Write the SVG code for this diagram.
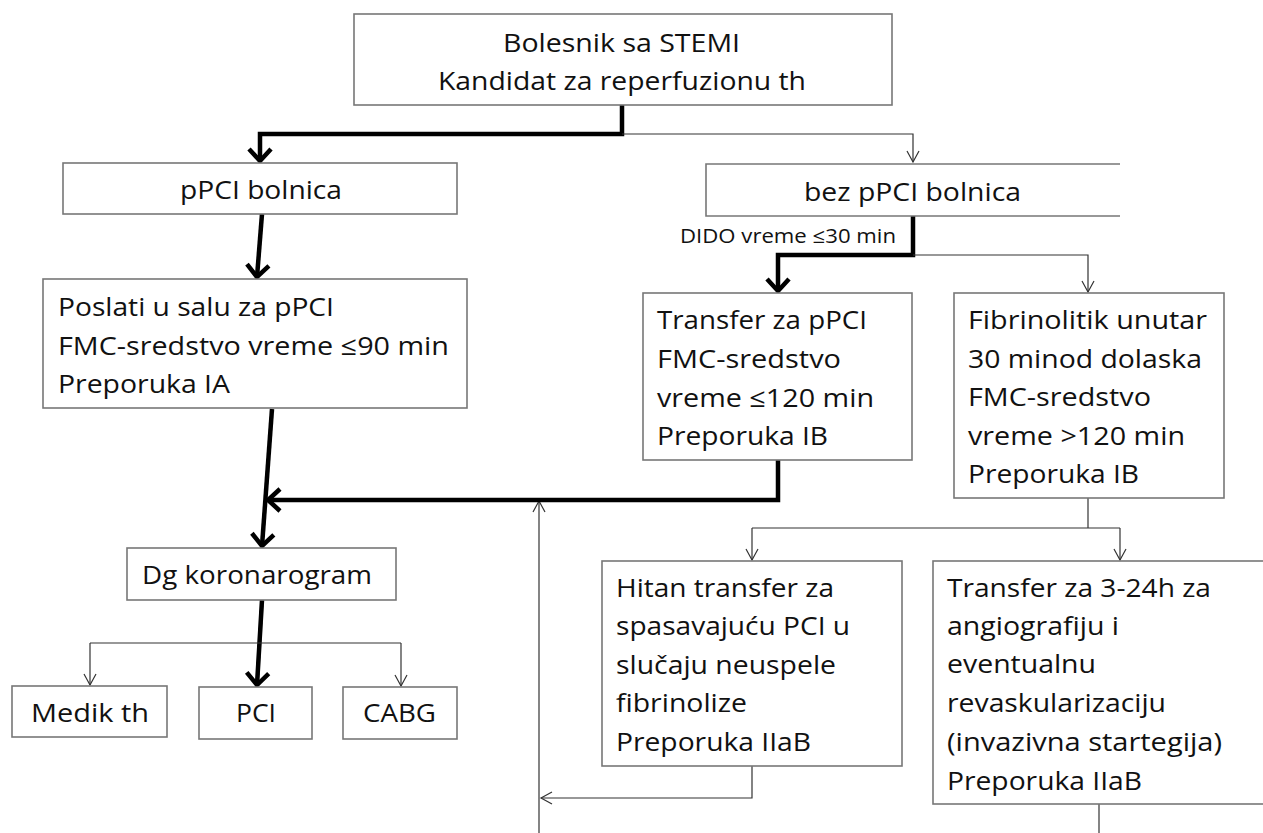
<svg xmlns="http://www.w3.org/2000/svg" width="1263" height="833" viewBox="0 0 1263 833">
<style>
.box{fill:#fff;stroke:#777;stroke-width:1.6}
.t{font-family:"Open Sans","Liberation Sans",sans-serif;font-size:26px;fill:#111}
.s{font-size:20px}
.thick{stroke:#000;stroke-width:4.5;fill:none}
.thin{stroke:#333;stroke-width:1.2;fill:none}
</style>
<defs>
<marker id="ak" markerUnits="userSpaceOnUse" markerWidth="30" markerHeight="30" refX="14" refY="12" orient="auto" overflow="visible">
<path d="M2,1 L14,12 L2,23" fill="none" stroke="#000" stroke-width="4.5"/>
</marker>
<marker id="an" markerUnits="userSpaceOnUse" markerWidth="14" markerHeight="14" refX="11" refY="6" orient="auto" overflow="visible">
<path d="M0,0 L11,6 L0,12" fill="none" stroke="#333" stroke-width="1.2"/>
</marker>
</defs>
<rect width="1263" height="833" fill="#fff"/>
<g id="connectors">
<path class="thin" d="M539,833 V501" marker-end="url(#an)"/>
<path class="thick" d="M622,105 V134 H260 V161" marker-end="url(#ak)"/>
<path class="thin" d="M622,134 H913 V162" marker-end="url(#an)"/>
<path class="thick" d="M262,214 L257,277" marker-end="url(#ak)"/>
<path class="thick" d="M913,216 V255 H778 V291" marker-end="url(#ak)"/>
<path class="thin" d="M913,255 H1088 V292" marker-end="url(#an)"/>
<path class="thick" d="M272,409 L262,546" marker-end="url(#ak)"/>
<path class="thick" d="M778,460 V500 H268" marker-end="url(#ak)"/>
<path class="thick" d="M262,600 L257,685" marker-end="url(#ak)"/>
<path class="thin" d="M90,643 H401"/>
<path class="thin" d="M90,643 V685" marker-end="url(#an)"/>
<path class="thin" d="M401,643 V686" marker-end="url(#an)"/>
<path class="thin" d="M1088,498 V528"/>
<path class="thin" d="M752,528 H1120"/>
<path class="thin" d="M752,528 V560" marker-end="url(#an)"/>
<path class="thin" d="M1120,528 V560" marker-end="url(#an)"/>
<path class="thin" d="M752,766 V798 H541" marker-end="url(#an)"/>
<path class="thin" d="M1099,804 V833"/>
<text class="t s" x="680" y="243" textLength="216" lengthAdjust="spacingAndGlyphs">DIDO vreme ≤30 min</text>
</g>
<g id="n-start">
<rect class="box" x="354" y="14" width="538" height="91"/>
<text class="t" x="503" y="52" textLength="237" lengthAdjust="spacingAndGlyphs">Bolesnik sa STEMI</text>
<text class="t" x="438" y="90" textLength="368" lengthAdjust="spacingAndGlyphs">Kandidat za reperfuzionu th</text>
</g>
<g id="n-ppci">
<rect class="box" x="63" y="163" width="394" height="51"/>
<text class="t" x="180" y="199" textLength="162" lengthAdjust="spacingAndGlyphs">pPCI bolnica</text>
</g>
<g id="n-bez">
<path class="box" d="M1120,164 H706 V216 H1120"/>
<text class="t" x="804" y="201" textLength="217" lengthAdjust="spacingAndGlyphs">bez pPCI bolnica</text>
</g>
<g id="n-poslati">
<rect class="box" x="43" y="279" width="424" height="129"/>
<text class="t" x="58" y="316" textLength="276" lengthAdjust="spacingAndGlyphs">Poslati u salu za pPCI</text>
<text class="t" x="58" y="355" textLength="391" lengthAdjust="spacingAndGlyphs">FMC-sredstvo vreme ≤90 min</text>
<text class="t" x="58" y="393" textLength="172" lengthAdjust="spacingAndGlyphs">Preporuka IA</text>
</g>
<g id="n-transfer">
<rect class="box" x="643" y="293" width="269" height="167"/>
<text class="t" x="657" y="329" textLength="210" lengthAdjust="spacingAndGlyphs">Transfer za pPCI</text>
<text class="t" x="657" y="368" textLength="184" lengthAdjust="spacingAndGlyphs">FMC-sredstvo</text>
<text class="t" x="657" y="407" textLength="217" lengthAdjust="spacingAndGlyphs">vreme ≤120 min</text>
<text class="t" x="657" y="445" textLength="171" lengthAdjust="spacingAndGlyphs">Preporuka IB</text>
</g>
<g id="n-fibrinolitik">
<rect class="box" x="954" y="293" width="270" height="205"/>
<text class="t" x="968" y="329" textLength="239" lengthAdjust="spacingAndGlyphs">Fibrinolitik unutar</text>
<text class="t" x="968" y="368" textLength="234" lengthAdjust="spacingAndGlyphs">30 minod dolaska</text>
<text class="t" x="968" y="406" textLength="183" lengthAdjust="spacingAndGlyphs">FMC-sredstvo</text>
<text class="t" x="968" y="445" textLength="217" lengthAdjust="spacingAndGlyphs">vreme &gt;120 min</text>
<text class="t" x="968" y="483" textLength="171" lengthAdjust="spacingAndGlyphs">Preporuka IB</text>
</g>
<g id="n-dg">
<rect class="box" x="127" y="548" width="269" height="52"/>
<text class="t" x="142" y="584" textLength="230" lengthAdjust="spacingAndGlyphs">Dg koronarogram</text>
</g>
<g id="n-medik">
<rect class="box" x="12" y="686" width="155" height="51"/>
<text class="t" x="31" y="722" textLength="118" lengthAdjust="spacingAndGlyphs">Medik th</text>
</g>
<g id="n-pci">
<rect class="box" x="199" y="687" width="113" height="52"/>
<text class="t" x="236" y="722" textLength="40" lengthAdjust="spacingAndGlyphs">PCI</text>
</g>
<g id="n-cabg">
<rect class="box" x="343" y="687" width="114" height="52"/>
<text class="t" x="363" y="722" textLength="73" lengthAdjust="spacingAndGlyphs">CABG</text>
</g>
<g id="n-hitan">
<rect class="box" x="602" y="561" width="300" height="205"/>
<text class="t" x="616" y="597" textLength="218" lengthAdjust="spacingAndGlyphs">Hitan transfer za</text>
<text class="t" x="616" y="635" textLength="234" lengthAdjust="spacingAndGlyphs">spasavajuću PCI u</text>
<text class="t" x="616" y="674" textLength="220" lengthAdjust="spacingAndGlyphs">slučaju neuspele</text>
<text class="t" x="616" y="712" textLength="131" lengthAdjust="spacingAndGlyphs">fibrinolize</text>
<text class="t" x="616" y="751" textLength="195" lengthAdjust="spacingAndGlyphs">Preporuka IIaB</text>
</g>
<g id="n-transfer324">
<rect class="box" x="933" y="561" width="340" height="243"/>
<text class="t" x="947" y="597" textLength="264" lengthAdjust="spacingAndGlyphs">Transfer za 3-24h za</text>
<text class="t" x="947" y="635" textLength="172" lengthAdjust="spacingAndGlyphs">angiografiju i</text>
<text class="t" x="947" y="673" textLength="149" lengthAdjust="spacingAndGlyphs">eventualnu</text>
<text class="t" x="947" y="712" textLength="219" lengthAdjust="spacingAndGlyphs">revaskularizaciju</text>
<text class="t" x="947" y="751" textLength="275" lengthAdjust="spacingAndGlyphs">(invazivna startegija)</text>
<text class="t" x="947" y="790" textLength="195" lengthAdjust="spacingAndGlyphs">Preporuka IIaB</text>
</g>
</svg>
